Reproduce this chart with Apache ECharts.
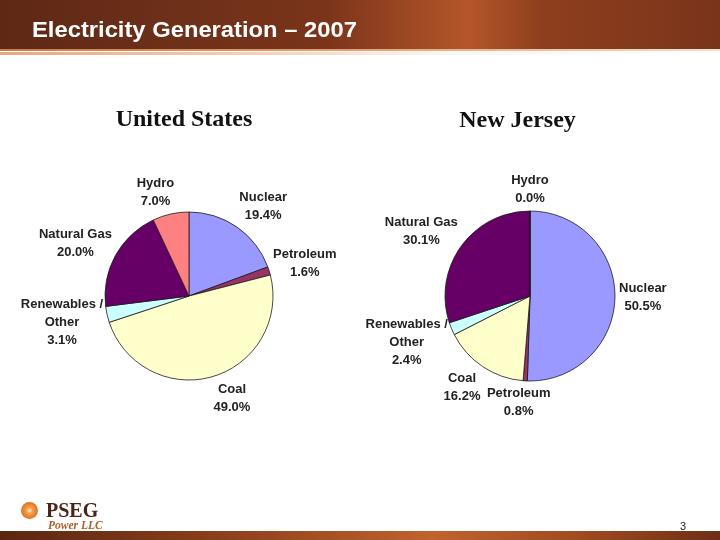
<!DOCTYPE html>
<html>
<head>
<meta charset="utf-8">
<script src="https://cdn.jsdelivr.net/npm/echarts@6/dist/echarts.min.js"></script>
<style>html,body{margin:0;padding:0;background:#fff}#c{width:720px;height:540px}</style>
</head>
<body>
<div id="c"></div>
<script>
// ---- data ----
const categories = ['Nuclear', 'Petroleum', 'Coal', 'Renewables /\nOther', 'Natural Gas', 'Hydro'];
const usValues = [19.4, 1.6, 49.0, 3.1, 20.0, 7.0];
const njValues = [50.5, 0.8, 16.2, 2.4, 30.1, 0.0];
const pieTitles = ['United States', 'New Jersey'];
const colors = ['#9999FF', '#993366', '#FFFFCC', '#CCFFFF', '#660066', '#FF8080'];

const chart = echarts.init(document.getElementById('c'), null, {renderer: 'canvas'});

const pies = [
  {values: usValues, center: [189, 296], r: 84},
  {values: njValues, center: [530, 296], r: 85}
];

function midAngle(values, idx) {
  const total = values.reduce((a, b) => a + b, 0);
  let cum = 0;
  for (let i = 0; i < idx; i++) cum += values[i];
  const mid = cum + values[idx] / 2;
  return mid / total * Math.PI * 2;
}

function clamp1(v) { return Math.max(-1, Math.min(1, v)); }

function makeSeries(p, si) {
  return {
    type: 'pie',
    center: p.center,
    radius: p.r,
    startAngle: 90,
    clockwise: true,
    animation: false,
    silent: true,
    stillShowZeroSum: true,
    data: p.values.map((v, i) => ({name: categories[i], value: v, itemStyle: {color: colors[i]}})),
    itemStyle: {borderColor: '#1a1a1a', borderWidth: 0.8},
    label: {
      show: true,
      position: 'outside',
      overflow: 'none',
      formatter: (d) => d.name + '\n' + d.value.toFixed(1) + '%',
      fontFamily: 'Liberation Sans, Arial, sans-serif',
      fontWeight: 'bold',
      fontSize: 13,
      lineHeight: 18,
      color: '#222',
      align: 'center'
    },
    labelLine: {show: false},
    labelLayout: function (lp) {
      const th = midAngle(p.values, lp.dataIndex);
      const w = lp.labelRect.width, h = lp.labelRect.height;
      const s = Math.sin(th), c = Math.cos(th);
      const d = p.r + 4;
      const px = p.center[0] + d * s, py = p.center[1] - d * c;
      return {
        x: px + clamp1(s * 3.5) * w / 2,
        y: py - clamp1(c * 1.15) * h / 2,
        align: 'center',
        verticalAlign: 'middle'
      };
    }
  };
}

const graphics = [
  // header banner
  {type: 'rect', shape: {x: 0, y: 0, width: 720, height: 49}, style: {
    fill: new echarts.graphic.LinearGradient(0, 0, 1, 0, [
      {offset: 0, color: '#5e2815'}, {offset: 0.25, color: '#6e3019'},
      {offset: 0.45, color: '#7a341a'}, {offset: 0.65, color: '#b5562a'},
      {offset: 0.75, color: '#8e3f1d'}, {offset: 1, color: '#7a341b'}])}, z: 0},
  {type: 'rect', shape: {x: 0, y: 49, width: 720, height: 2}, style: {
    fill: new echarts.graphic.LinearGradient(0, 0, 1, 0, [
      {offset: 0, color: '#d07a45'}, {offset: 0.5, color: '#e8a070'}, {offset: 1, color: '#f6e0d0'}])}},
  {type: 'rect', shape: {x: 0, y: 52, width: 720, height: 3}, style: {
    fill: new echarts.graphic.LinearGradient(0, 0, 1, 0, [
      {offset: 0, color: '#e5a880'}, {offset: 0.4, color: '#f4d6c0'}, {offset: 0.6, color: '#fdf4ee'}, {offset: 1, color: '#ffffff'}])}},
  {type: 'text', x: 32, y: 30.5, scaleX: 1.08, style: {text: 'Electricity Generation \u2013 2007', fill: '#ffffff',
    font: 'bold 22px "Liberation Sans", Arial, sans-serif', verticalAlign: 'middle'}},
  // footer bar
  {type: 'rect', shape: {x: 0, y: 531, width: 720, height: 9}, style: {
    fill: new echarts.graphic.LinearGradient(0, 0, 1, 0, [
      {offset: 0, color: '#5a2612'}, {offset: 0.3, color: '#8a3e1c'}, {offset: 0.6, color: '#c0632e'},
      {offset: 0.8, color: '#a04b22'}, {offset: 1, color: '#6e2f16'}])}},
  // logo
  {type: 'circle', shape: {cx: 29.5, cy: 510.5, r: 8.5}, style: {
    fill: new echarts.graphic.RadialGradient(0.5, 0.5, 0.5, [
      {offset: 0, color: '#fff2d8'}, {offset: 0.35, color: '#f6a050'}, {offset: 1, color: '#e0701e'}])}},
  {type: 'text', x: 46, y: 512, style: {text: 'PSEG', fill: '#4a2418',
    font: 'bold 20px "Liberation Serif", "Times New Roman", serif', verticalAlign: 'middle'}},
  {type: 'text', x: 48, y: 526.5, style: {text: 'Power LLC', fill: '#b0612c',
    font: 'italic bold 11.5px "Liberation Serif", "Times New Roman", serif', verticalAlign: 'middle'}},
  {type: 'text', x: 683, y: 527, style: {text: '3', fill: '#222',
    font: '11px "Liberation Sans", Arial, sans-serif', align: 'center', verticalAlign: 'middle'}},
  // pie titles
  {type: 'text', x: 184, y: 120, style: {text: pieTitles[0], fill: '#111',
    font: 'bold 24px "Liberation Serif", "Times New Roman", serif', align: 'center', verticalAlign: 'middle'}},
  {type: 'text', x: 517.5, y: 121, style: {text: pieTitles[1], fill: '#111',
    font: 'bold 24px "Liberation Serif", "Times New Roman", serif', align: 'center', verticalAlign: 'middle'}}
];

chart.setOption({
  animation: false,
  backgroundColor: '#ffffff',
  graphic: graphics,
  series: pies.map(makeSeries)
});
</script>
</body>
</html>
